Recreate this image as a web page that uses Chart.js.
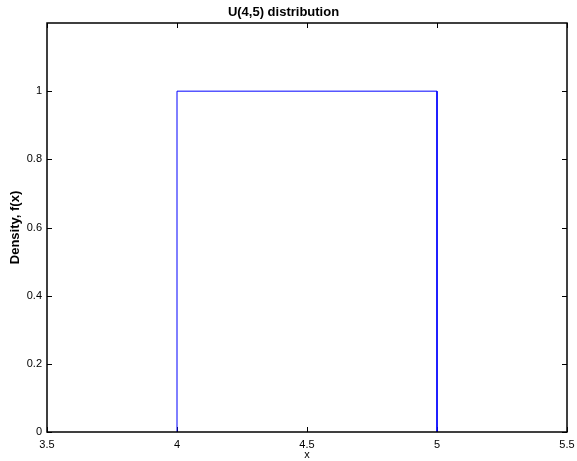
<!DOCTYPE html>
<html>
<head>
<meta charset="utf-8">
<script src="https://cdn.jsdelivr.net/npm/chart.js@4"></script>
<style>
  body { margin: 0; background: #fff; }
</style>
</head>
<body>
<canvas id="uniformChart" width="577" height="461"></canvas>
<script>
// density of U(4,5): step up at 4, down at 5
const xValues = [4, 4, 5, 5];
const densityValues = [0, 1, 1, 0];
const xTicks = [3.5, 4, 4.5, 5, 5.5];
const yTicks = [0, 0.2, 0.4, 0.6, 0.8, 1];

const fontFamily = '"Liberation Sans", Arial, Helvetica, sans-serif';

// MATLAB style box with inward ticks on all four sides
const boxPlugin = {
    id: 'matlabBox',
    beforeDatasetsDraw(chart) {
        // ticks go under the line
        const ctx = chart.ctx;
        const a = chart.chartArea;
        const xs = chart.scales.x;
        const ys = chart.scales.y;
        const len = 5;
        ctx.save();
        ctx.strokeStyle = '#000';
        ctx.lineWidth = 1;
        ctx.beginPath();
        xTicks.forEach(v => {
            const px = Math.round(xs.getPixelForValue(v)) + 0.5;
            ctx.moveTo(px, a.bottom);
            ctx.lineTo(px, a.bottom - len);
            ctx.moveTo(px, a.top);
            ctx.lineTo(px, a.top + len);
        });
        yTicks.forEach(v => {
            const py = Math.round(ys.getPixelForValue(v)) + 0.5;
            ctx.moveTo(a.left, py);
            ctx.lineTo(a.left + len, py);
            ctx.moveTo(a.right, py);
            ctx.lineTo(a.right - len, py);
        });
        ctx.stroke();
        ctx.restore();
    },
    afterDatasetsDraw(chart) {
        const ctx = chart.ctx;
        const a = chart.chartArea;
        ctx.save();
        ctx.strokeStyle = '#000';
        ctx.lineWidth = 1.5;
        ctx.strokeRect(a.left, a.top, a.right - a.left, a.bottom - a.top);
        ctx.restore();
    }
};

new Chart(document.getElementById('uniformChart'), {
    type: 'scatter',
    data: {
        datasets: [{
            data: xValues.map((x, i) => ({ x: x, y: densityValues[i] })),
            showLine: true,
            borderColor: '#0000ff',
            borderWidth: 1,
            pointRadius: 0,
            fill: false,
            tension: 0
        }]
    },
    options: {
        responsive: false,
        animation: false,
        layout: {
            padding: { left: 0, right: 10, top: 0, bottom: 0 }
        },
        plugins: {
            legend: { display: false },
            tooltip: { enabled: false },
            title: {
                display: true,
                text: 'U(4,5) distribution',
                color: '#000',
                font: { family: fontFamily, size: 13, weight: 'bold' },
                padding: { top: 5, bottom: 2.4 }
            }
        },
        scales: {
            x: {
                type: 'linear',
                min: 3.5,
                max: 5.5,
                afterBuildTicks: scale => { scale.ticks = xTicks.map(v => ({ value: v })); },
                afterFit: scale => {
                    scale.height = 29;
                    scale.paddingLeft = 0;
                    scale.paddingRight = 0;
                },
                grid: { display: false, drawTicks: false },
                border: { display: false },
                ticks: {
                    color: '#000',
                    padding: 6,
                    maxRotation: 0,
                    font: { family: fontFamily, size: 11 },
                    callback: v => String(v)
                },
                title: {
                    display: true,
                    text: 'x',
                    color: '#000',
                    padding: { top: 0, bottom: -1 },
                    font: { family: fontFamily, size: 11 }
                }
            },
            y: {
                type: 'linear',
                min: 0,
                max: 1.2,
                afterBuildTicks: scale => { scale.ticks = yTicks.map(v => ({ value: v })); },
                afterFit: scale => { scale.width = 47; },
                grid: { display: false, drawTicks: false },
                border: { display: false },
                ticks: {
                    color: '#000',
                    padding: 5,
                    font: { family: fontFamily, size: 11 },
                    callback: v => String(v)
                },
                title: {
                    display: true,
                    text: 'Density, f(x)',
                    color: '#000',
                    padding: { top: 8, bottom: 0 },
                    font: { family: fontFamily, size: 13, weight: 'bold' }
                }
            }
        }
    },
    plugins: [boxPlugin]
});
</script>
</body>
</html>
